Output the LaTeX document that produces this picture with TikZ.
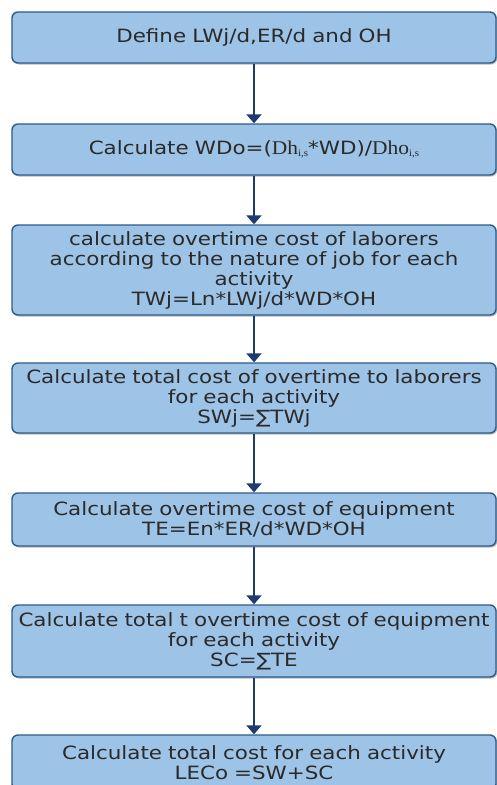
\documentclass[tikz,border=0pt]{standalone}
\usepackage{fontspec}
\setmainfont[FakeStretch=1.17]{DejaVu Sans}
\newfontfamily\serifpart[FakeStretch=1.1]{Liberation Serif}
\usetikzlibrary{arrows.meta,shadows}
\definecolor{boxfill}{HTML}{9DC3E6}
\definecolor{boxline}{HTML}{2E5C8A}
\definecolor{arrowc}{HTML}{1F3A6E}
\definecolor{txt}{HTML}{2A2A2A}
\tikzset{
  stepbox/.style={draw=boxline, fill=boxfill, line width=1.4pt, rounded corners=6pt,
    text width=480pt, inner sep=2pt, align=center, text=txt,
    font=\fontsize{18.3}{20}\selectfont,
    drop shadow={shadow xshift=1.2pt, shadow yshift=-1.5pt, fill=black!45, opacity=0.6}},
  flow/.style={draw=arrowc, line width=2pt, -{Triangle[width=15pt,length=9pt]}}
}
\begin{document}
\begin{tikzpicture}[x=1pt,y=1pt]
\clip (0,0) rectangle (497,-785);
\fill[white] (0,0) rectangle (497,-785);
\node[stepbox, minimum height=51pt] (b1) at (254,-37.5) {Define LWj/d,ER/d and OH};
\node[stepbox, minimum height=51pt] (b2) at (254,-149.5) {Calculate WDo=({\serifpart\fontsize{19.5}{20}\selectfont Dh}{\serifpart\fontsize{10}{10}\selectfont\raisebox{-2pt}{i,s}}*WD)/{\serifpart\fontsize{19.5}{20}\selectfont Dho}{\serifpart\fontsize{10}{10}\selectfont\raisebox{-2pt}{i,s}}};
\node[stepbox, minimum height=90pt] (b3) at (254,-270) {calculate overtime cost of laborers\\ according to the nature of job for each\\ activity\\ TWj=Ln*LWj/d*WD*OH};
\node[stepbox, minimum height=70pt] (b4) at (254,-398) {Calculate total cost of overtime to laborers\\ for each activity\\ SWj=∑TWj};
\node[stepbox, minimum height=53pt] (b5) at (254,-519.5) {Calculate overtime cost of equipment\\ TE=En*ER/d*WD*OH};
\node[stepbox, minimum height=72pt] (b6) at (254,-641) {Calculate total t overtime cost of equipment\\ for each activity\\ SC=∑TE};
\node[stepbox, minimum height=55pt] (b7) at (254,-762.5) {Calculate total cost for each activity\\ LECo =SW+SC};
\draw[flow] (b1.south) -- (b2.north);
\draw[flow] (b2.south) -- (b3.north);
\draw[flow] (b3.south) -- (b4.north);
\draw[flow] (b4.south) -- (b5.north);
\draw[flow] (b5.south) -- (b6.north);
\draw[flow] (b6.south) -- (b7.north);
\end{tikzpicture}
\end{document}
